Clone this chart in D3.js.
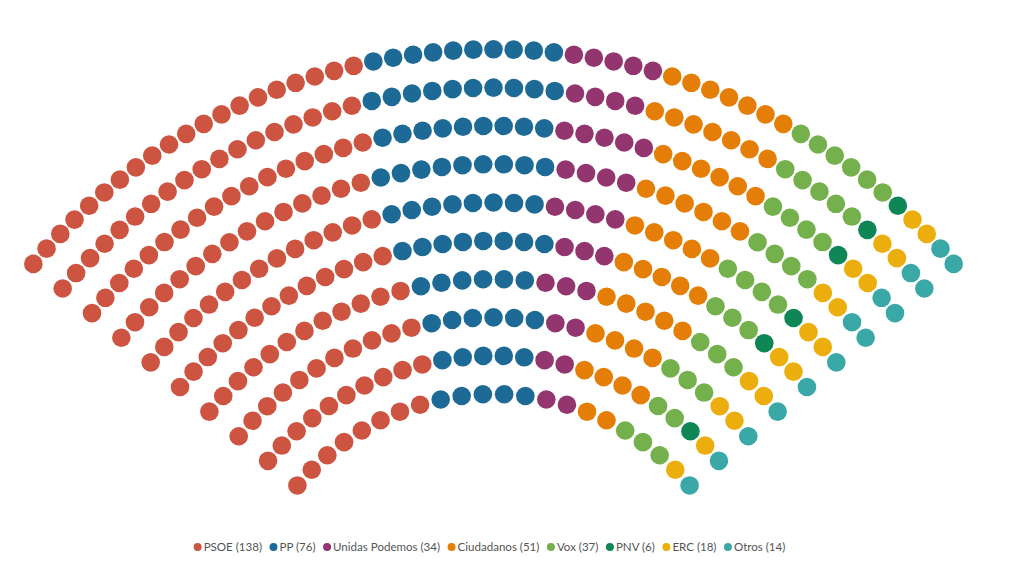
<!DOCTYPE html>
<html lang="es">
  <head>
    <meta charset="utf-8" />
    <title>Hemiciclo</title>
    <script src="https://d3js.org/d3.v7.min.js"></script>
    <style type="text/css">
      body { margin: 0; background: #fff; }
      .legend text { font-family: Lato, "Open Sans", sans-serif; font-size: 11.55px; fill: #555; }
    </style>
  </head>
  <body>
    <script type="text/javascript">
      // Parties, seats and colours
      const parties = ["PSOE", "PP", "Unidas Podemos", "Ciudadanos", "Vox", "PNV", "ERC", "Otros"];
      const seats = [138, 76, 34, 51, 37, 6, 18, 14];
      const colors = ["#cc5440", "#1e6a96", "#93356f", "#e47e07", "#74b04b", "#0e8655", "#ecae0c", "#3ba8a8"];

      // seats per row, inner to outer
      const rowSeats = [22, 26, 29, 32, 36, 39, 42, 46, 49, 53];

      const w = 1021;
      const h = 571;
      const cx = 493.5;
      const cy = 650;
      const dotR = 9.3;

      const rScale = d3.scaleLinear()
        .domain([0, rowSeats.length - 1])
        .range([256, 600.7]);

      let svg = d3.select("body")
        .append("svg")
        .attr("width", w)
        .attr("height", h);

      // build all seat positions
      let allSeats = [];
      rowSeats.forEach(function (n, row) {
        const aScale = d3.scaleLinear().domain([0, n - 1]).range([-50, 50]);
        for (let j = 0; j < n; j++) {
          allSeats.push({ row: row, r: rScale(row), angle: aScale(j) });
        }
      });

      // left to right, inner row first when angles match
      allSeats.sort(function (a, b) {
        const d = a.angle - b.angle;
        if (Math.abs(d) > 1e-9) return d;
        return a.r - b.r;
      });

      // assign party by rank
      let cum = d3.cumsum(seats);
      allSeats.forEach(function (s, i) {
        s.party = d3.bisectRight(cum, i);
      });

      const color = d3.scaleOrdinal().domain(d3.range(parties.length)).range(colors);

      svg.append("g")
        .selectAll("circle")
        .data(allSeats)
        .enter()
        .append("circle")
        .attr("cx", function (d) { return cx + d.r * Math.sin(d.angle * Math.PI / 180); })
        .attr("cy", function (d) { return cy - d.r * Math.cos(d.angle * Math.PI / 180); })
        .attr("r", dotR)
        .attr("fill", function (d) { return color(d.party); });

      // legend
      let legend = svg.append("g").attr("class", "legend");
      let items = legend.selectAll("g")
        .data(parties)
        .enter()
        .append("g");

      items.append("circle")
        .attr("r", 4)
        .attr("cx", 4)
        .attr("cy", 0)
        .attr("fill", function (d, i) { return colors[i]; });

      items.append("text")
        .attr("x", 10)
        .attr("y", 4.2)
        .text(function (d, i) { return d + " (" + seats[i] + ")"; });

      let x = 0;
      items.each(function () {
        const tw = d3.select(this).select("text").node().getComputedTextLength();
        d3.select(this).attr("transform", "translate(" + x + ",0)");
        x += 10 + tw + 7.5;
      });
      const total = x - 7.5;
      legend.attr("transform", "translate(" + (489.5 - total / 2) + ",547)");
    </script>
  </body>
</html>
